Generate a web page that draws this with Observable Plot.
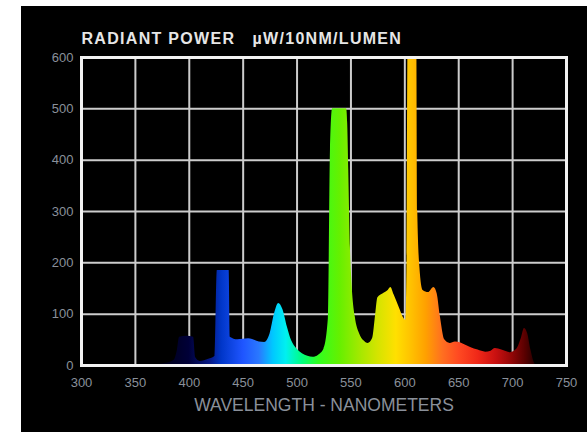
<!DOCTYPE html>
<html>
<head>
<meta charset="utf-8">
<script src="https://cdn.jsdelivr.net/npm/d3@7"></script>
<script src="https://cdn.jsdelivr.net/npm/@observablehq/plot@0.6"></script>
<style>
  html, body { margin: 0; padding: 0; background: #ffffff; }
  #wrap { position: absolute; left: 21px; top: 6px; width: 566px; height: 426px; background: #000; }
</style>
</head>
<body>
<div id="wrap"></div>
<script>
const titleText = "RADIANT POWER   \u00B5W/10NM/LUMEN";
const xAxisLabel = "WAVELENGTH - NANOMETERS";
const xTicks = [300, 350, 400, 450, 500, 550, 600, 650, 700, 750];
const yTicks = [0, 100, 200, 300, 400, 500, 600];

const wavelengths = [360, 370, 380, 386, 389, 391, 398, 404, 406, 410, 418, 424, 426, 437, 438, 445, 455, 465, 470, 475, 479, 483, 487, 491, 495, 500, 505, 510, 515, 520, 525, 529, 531, 533, 546, 547, 548, 549.5, 551, 554, 558, 562, 566, 570, 573, 575, 580, 584, 587, 590, 595, 599, 601, 602, 603, 611, 612, 614, 617, 622, 627, 630, 633, 637, 642, 647, 652, 656, 661, 668, 675, 680, 684, 690, 698, 704, 708, 711, 714, 717, 720, 722];
const power =       [0,   2,   5,   10,  30,  55,  57,  55,  15,  8,   12,  18,  185, 185, 55,  50,  52,  46,  45,  62,  100, 121, 108, 75,  48,  32,  23,  18,  16,  20,  32,  90,  420, 500, 500, 470, 380, 230,   160, 95,  62,  48,  43,  52,  100, 132, 140, 145, 152, 138, 112, 92,  88,  200, 640, 640, 300, 190, 146, 142, 152, 140, 95,  50,  43,  46,  44,  40,  35,  30,  26,  28,  33,  30,  25,  32,  52,  72,  62,  30,  6,   0];

const gradientNm =     [370, 400, 420, 430, 450, 465, 478, 490, 505, 520, 540, 560, 575, 592, 605, 620, 635, 650, 668, 685, 700, 712, 722];
const gradientColors = ["#000010", "#000038", "#071a88", "#0036c8", "#1f55ff", "#2a78ff", "#00c8ff", "#00f0f0", "#00ff80", "#30ff20", "#66f000", "#a8e800", "#d4e400", "#ffe000", "#ffc400", "#ffa000", "#ff7020", "#ff4a22", "#f02818", "#c81010", "#900606", "#580000", "#200000"];

const data = wavelengths.map((nm, i) => ({nm, v: power[i]}));

const chart = Plot.plot({
  width: 566,
  height: 426,
  marginLeft: 60,
  marginRight: 21,
  marginTop: 51,
  marginBottom: 67,
  style: {background: "#000", color: "#8a909a", fontFamily: "Liberation Sans, Arial, sans-serif", fontSize: "13px"},
  x: {domain: [300, 750], ticks: xTicks, tickSize: 0, tickPadding: 12, label: null},
  y: {domain: [0, 600], ticks: yTicks, tickSize: 0, tickPadding: 8, label: null},
  marks: [
    Plot.gridX(xTicks, {stroke: "#cccccc", strokeOpacity: 1, strokeWidth: 2}),
    Plot.gridY(yTicks, {stroke: "#cccccc", strokeOpacity: 1, strokeWidth: 2}),
    Plot.areaY(data, {x: "nm", y: "v", fill: "url(#spectrumGrad)", curve: "monotone-x", clip: true}),
    Plot.frame({stroke: "#f2f2f2", strokeWidth: 3}),
    Plot.text([titleText], {frameAnchor: "top-left", lineAnchor: "middle", dy: -19, textAnchor: "start", fill: "#e6e6e6", fontWeight: "bold", fontSize: 16}),
    Plot.text([xAxisLabel], {frameAnchor: "bottom", lineAnchor: "middle", dy: 40, fill: "#8a909a", fontSize: 17.5})
  ]
});

// widen the title's letter spacing to match the reference lettering
const textGroups = chart.querySelectorAll('g[aria-label="text"]');
if (textGroups.length) textGroups[0].setAttribute("letter-spacing", "1.3");

// gradient along the wavelength axis, placed with the chart's own x scale
const xs = chart.scale("x");
const ns = "http://www.w3.org/2000/svg";
const defs = document.createElementNS(ns, "defs");
const grad = document.createElementNS(ns, "linearGradient");
grad.setAttribute("id", "spectrumGrad");
grad.setAttribute("gradientUnits", "userSpaceOnUse");
grad.setAttribute("x1", xs.apply(gradientNm[0]));
grad.setAttribute("x2", xs.apply(gradientNm[gradientNm.length - 1]));
grad.setAttribute("y1", 0);
grad.setAttribute("y2", 0);
const n0 = gradientNm[0], n1 = gradientNm[gradientNm.length - 1];
gradientNm.forEach((nm, i) => {
  const st = document.createElementNS(ns, "stop");
  st.setAttribute("offset", ((nm - n0) / (n1 - n0)).toFixed(4));
  st.setAttribute("stop-color", gradientColors[i]);
  grad.appendChild(st);
});
defs.appendChild(grad);
chart.insertBefore(defs, chart.firstChild);

document.getElementById("wrap").appendChild(chart);
</script>
</body>
</html>
